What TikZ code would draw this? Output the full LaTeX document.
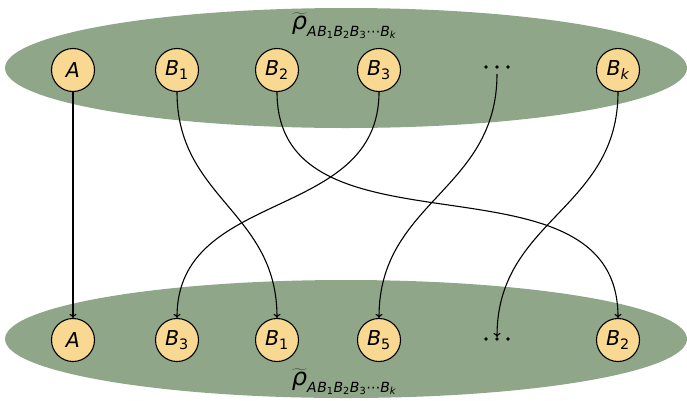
\documentclass[tikz,border=0pt]{standalone}
\usepackage{fontspec}
\setmainfont{DejaVu Sans}
\usetikzlibrary{arrows.meta}
\definecolor{ellgreen}{RGB}{143,167,136}
\definecolor{nodefill}{RGB}{249,216,146}
\newcommand{\rholabel}{$\widetilde{\hbox{\itshape ρ}}$\raisebox{-0.5ex}{\fontsize{14}{16}\selectfont\itshape A\kern0.5pt B\textsubscript{\upshape 1}B\textsubscript{\upshape 2}B\textsubscript{\upshape 3}\upshape⋯\itshape B\textsubscript{k}}}
\newcommand{\lbl}[2]{\textit{#1}\textsubscript{\upshape #2}}
\begin{document}
\begin{tikzpicture}[x=1pt,y=-1pt,
  qb/.style={circle,draw=black,fill=nodefill,line width=1.1pt,minimum size=43pt,inner sep=0pt,font=\fontsize{20.5}{24}\selectfont},
  arr/.style={line width=1.1pt,-{To[length=4pt,width=7pt]}},
  cur/.style={arr,out=-90,in=90,looseness=1.1},
  dotc/.style={circle,fill=black,inner sep=0pt,minimum size=3.6pt}]
\useasboundingbox (0,0) rectangle (687,400);
\fill[ellgreen] (346,68) ellipse [x radius=341, y radius=60];
\fill[ellgreen] (346,339) ellipse [x radius=341, y radius=59];
\node (rhotop) at (344,26) {\fontsize{24}{28}\selectfont\rholabel};
\node (rhobot) at (344,382) {\fontsize{24}{28}\selectfont\rholabel};
% top row
\node[qb] (tA) at (73,70) {\textit{A}};
\node[qb] (tB1) at (177,70) {\lbl{B}{1}};
\node[qb] (tB2) at (277,70) {\lbl{B}{2}};
\node[qb] (tB3) at (379,70) {\lbl{B}{3}};
\node[qb] (tBk) at (618,70) {\textit{B}\textsubscript{\itshape k}};
\node[dotc] (td1) at (486,67) {};
\node[dotc] (td2) at (497,67) {};
\node[dotc] (td3) at (508,67) {};
\coordinate (tdout) at (497,74);
% bottom row
\node[qb] (bA) at (73,340) {\textit{A}};
\node[qb] (bB3) at (177,340) {\lbl{B}{3}};
\node[qb] (bB1) at (277,340) {\lbl{B}{1}};
\node[qb] (bB5) at (379,340) {\lbl{B}{5}};
\node[qb] (bB2) at (618,340) {\lbl{B}{2}};
\node[dotc] (bd1) at (486,339) {};
\node[dotc] (bd2) at (497,339) {};
\node[dotc] (bd3) at (508,339) {};
\coordinate (bdin) at (497,337);
% connectors
\draw[arr] (tA) -- (bA);
\draw[cur] (tB1.south) to (bB1.north);
\draw[cur] (tB2.south) to (bB2.north);
\draw[cur] (tB3.south) to (bB3.north);
\draw[cur] (tdout) to (bB5.north);
\draw[cur] (tBk.south) to (bdin);
\end{tikzpicture}
\end{document}
